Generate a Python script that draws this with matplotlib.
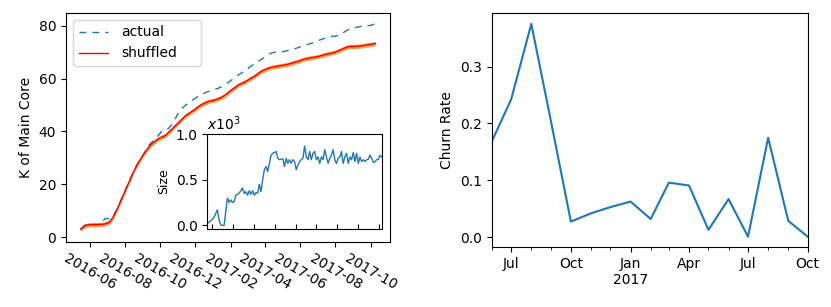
import numpy as np
import pandas as pd
import matplotlib
matplotlib.use('Agg')
import matplotlib.pyplot as plt
import matplotlib.dates as mdates
from matplotlib.ticker import NullFormatter, FuncFormatter

# weekly K of main core, actual vs shuffled
week_start = '2016-05-16'
actual_k = [3, 4.5, 4.8, 4.8, 4.8, 5, 7, 7, 8, 10.5, 14, 17.5, 21, 24.5, 27.5, 30,
            32.5, 35, 36.5, 38, 40, 40.2, 41.5, 43.5, 46.5, 48.5, 50, 51, 52.2, 53.2,
            54, 54.8, 55.3, 55.8, 56.3, 57, 58, 59, 60.2, 61.3, 62.3, 63.3, 64.5, 65.5,
            66.5, 67.5, 68.5, 69.5, 70, 70, 70.2, 70.5, 71, 71.3, 71.8, 72.3, 72.8, 73.3,
            73.8, 74.5, 75, 75.5, 76, 76, 76.5, 77.3, 78.3, 79, 79.3, 79.6, 80, 80, 80.2,
            80.8]
shuffled_k = [3, 4.3, 4.7, 4.7, 4.7, 4.8, 5, 5.5, 7.5, 10.5, 14, 17.5, 21, 24.5, 27.5, 30,
              32.3, 34.3, 35.8, 37, 37.8, 38.5, 40, 41.5, 43, 44.5, 46, 47, 48, 49.2,
              50.2, 51, 51.5, 51.8, 52.3, 53, 54, 55.3, 56.4, 57.5, 58.3, 59, 60, 60.8,
              62, 63, 63.6, 64.2, 64.5, 64.8, 65, 65.3, 65.7, 66.2, 66.6, 67.2, 67.6,
              67.9, 68.1, 68.4, 68.9, 69.3, 69.6, 70, 70.6, 71.3, 72, 72.2, 72.2, 72.3,
              72.5, 72.8, 73, 73.3]
shuffled_err = [0.8] * len(shuffled_k)

# inset: main core size (x10^3)
size_start, size_end = '2016-05-17', '2017-10-09'
core_size = [0.02, 0.035, 0.05, 0.065, 0.09, 0.13, 0.17, 0.06, 0.005, 0.0, 0.0, 0.15,
             0.30, 0.25, 0.28, 0.25, 0.26, 0.33, 0.34, 0.355, 0.38, 0.41, 0.35, 0.37,
             0.33, 0.38, 0.34, 0.38, 0.33, 0.36, 0.35, 0.45, 0.37, 0.50, 0.61, 0.645,
             0.59, 0.68, 0.77, 0.79, 0.80, 0.81, 0.735, 0.72, 0.725, 0.73, 0.645, 0.735,
             0.68, 0.72, 0.68, 0.72, 0.70, 0.61, 0.66, 0.70, 0.72, 0.735, 0.87, 0.75,
             0.72, 0.81, 0.72, 0.79, 0.81, 0.72, 0.75, 0.68, 0.75, 0.72, 0.83, 0.75,
             0.68, 0.735, 0.77, 0.83, 0.72, 0.68, 0.735, 0.75, 0.81, 0.68, 0.75, 0.79,
             0.68, 0.75, 0.72, 0.80, 0.70, 0.79, 0.68, 0.75, 0.70, 0.72, 0.70, 0.72,
             0.725, 0.77, 0.735, 0.69, 0.70, 0.72, 0.725, 0.77, 0.75]

# monthly churn rate
churn_months = pd.date_range('2016-06-01', '2017-10-01', freq='MS')
churn_rate = [0.168, 0.2425, 0.375, 0.2, 0.0275, 0.042, 0.053, 0.0627, 0.032, 0.096,
              0.091, 0.013, 0.067, 0.001, 0.175, 0.0287, 0.001]

weeks = pd.date_range(week_start, periods=len(actual_k), freq='7D')
size_dates = pd.date_range(size_start, size_end, periods=len(core_size))

dpi = 100
fig = plt.figure(figsize=(831 / dpi, 307 / dpi), dpi=dpi)

ax = fig.add_axes([0.0794, 0.2127, 0.3899, 0.744])
ax.plot(weeks, actual_k, color='C0', lw=1, dashes=(5, 4.3), label='actual')
lo = np.array(shuffled_k) - np.array(shuffled_err)
hi = np.array(shuffled_k) + np.array(shuffled_err)
ax.fill_between(weeks, lo, hi, color='C1', alpha=0.75, lw=0)
ax.plot(weeks, shuffled_k, color='red', lw=1, label='shuffled')
ax.set_ylabel('K of Main Core')
ax.set_yticks([0, 20, 40, 60, 80])
ax.xaxis.set_major_locator(mdates.MonthLocator(bymonth=(2, 4, 6, 8, 10, 12)))
ax.xaxis.set_major_formatter(mdates.DateFormatter('%Y-%m'))
for lab in ax.get_xticklabels():
    lab.set_rotation(-30)
    lab.set_ha('center')
ax.legend(loc='upper left', bbox_to_anchor=(0.0225, 0.0, 0.394, 0.971),
          mode='expand', borderaxespad=0, handletextpad=0.95, handlelength=2.1)

# inset
axi = fig.add_axes([0.2495, 0.254, 0.2099, 0.309])
axi.plot(size_dates, core_size, color='C0', lw=1)
axi.set_xlim(size_dates[0], size_dates[-1])
axi.set_ylim(-0.04, 1.0)
axi.set_yticks([0.0, 0.5, 1.0])
axi.set_ylabel('Size', fontsize=9)
axi.xaxis.set_major_locator(mdates.MonthLocator(bymonth=(2, 4, 6, 8, 10, 12)))
axi.xaxis.set_major_formatter(NullFormatter())
axi.tick_params(axis='x', direction='in')
axi.text(0.0, 1.01, r'$x10^3$', transform=axi.transAxes, ha='left', va='bottom')

# churn rate
ax2 = fig.add_axes([0.5917, 0.1945, 0.3803, 0.7622])
ax2.plot(churn_months, churn_rate, color='C0', lw=1.5)
ax2.set_xlim(churn_months[0], churn_months[-1])
ax2.set_ylabel('Churn Rate')
ax2.set_yticks([0.0, 0.1, 0.2, 0.3])
ax2.xaxis.set_major_locator(mdates.MonthLocator(bymonth=(1, 4, 7, 10)))
ax2.xaxis.set_minor_locator(mdates.MonthLocator())
ax2.xaxis.set_minor_formatter(NullFormatter())


def month_fmt(x, pos):
    d = mdates.num2date(x)
    if d.month == 1:
        return d.strftime('%b') + '\n' + str(d.year)
    return d.strftime('%b')


ax2.xaxis.set_major_formatter(FuncFormatter(month_fmt))

fig.savefig('out.png', dpi=dpi)
